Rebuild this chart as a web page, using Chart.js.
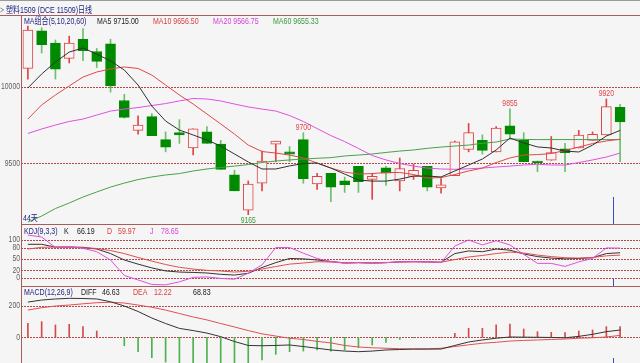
<!DOCTYPE html>
<html>
<head>
<meta charset="utf-8">
<script src="https://cdn.jsdelivr.net/npm/chart.js@4"></script>
<style>
body { margin: 0; background: #f5f5f5; }
#wrap { position: relative; width: 640px; height: 363px; overflow: hidden; background: #f5f5f5;
        font-family: "Liberation Sans", Arial, "Noto Sans CJK SC", sans-serif; font-size: 9px; }
canvas { position: absolute; left: 0; }
.t { position: absolute; white-space: nowrap; line-height: 10px; transform: scaleX(0.78); transform-origin: 0 50%; }
.ln { position: absolute; background: #a85c5c; }
.navy { color: #23237f; }
.blk { color: #202020; }
.red { color: #d84040; }
.mag { color: #d840d8; }
.grn { color: #3a9a3a; }
</style>
</head>
<body>
<div id="wrap">
  <div class="ln" style="left:0;top:0;width:640px;height:1px;background:#9a9a9a"></div>
  <canvas id="cMain" width="640" height="208" style="top:16px"></canvas>
  <canvas id="cKdj" width="640" height="61" style="top:225px"></canvas>
  <canvas id="cMacd" width="640" height="76" style="top:287px"></canvas>

  <div class="ln" style="left:0;top:15px;width:640px;height:1px"></div>
  <div class="ln" style="left:21px;top:224px;width:619px;height:1px"></div>
  <div class="ln" style="left:21px;top:286px;width:619px;height:1px"></div>
  <div class="ln" style="left:21px;top:15px;width:1px;height:348px"></div>

  <div class="t" style="left:0;top:5px;color:#777">&gt;</div>
  <div class="t navy" style="left:6px;top:5px">塑料1509 (DCE 11509)日线</div>

  <div class="t navy" style="left:24px;top:15.5px">MA组合(5,10,20,60)</div>
  <div class="t blk" style="left:97px;top:15.5px">MA5 9715.00</div>
  <div class="t red" style="left:153px;top:15.5px">MA10 9656.50</div>
  <div class="t mag" style="left:213px;top:15.5px">MA20 9566.75</div>
  <div class="t grn" style="left:273px;top:15.5px">MA60 9655.33</div>
  <div class="t navy" style="left:23px;top:213px">44天</div>

  <div class="t navy" style="left:24px;top:225.5px">KDJ(9,3,3)</div>
  <div class="t blk" style="left:64px;top:225.5px">K</div>
  <div class="t blk" style="left:77px;top:225.5px">66.19</div>
  <div class="t red" style="left:107px;top:225.5px">D</div>
  <div class="t red" style="left:118px;top:225.5px">59.97</div>
  <div class="t mag" style="left:150px;top:225.5px">J</div>
  <div class="t mag" style="left:161px;top:225.5px">78.65</div>

  <div class="t navy" style="left:24px;top:286.5px">MACD(12,26,9)</div>
  <div class="t blk" style="left:81px;top:286.5px">DIFF</div>
  <div class="t blk" style="left:102px;top:286.5px">46.63</div>
  <div class="t red" style="left:133px;top:286.5px">DEA</div>
  <div class="t red" style="left:154px;top:286.5px">12.22</div>
  <div class="t blk" style="left:193px;top:286.5px">68.83</div>
</div>

<script>
// K线数据 (读自图上)
const days = Array.from({length: 44}, (_, i) => String(i + 1));

const opens  = [10120,10365,10285,10185,10310,10230,10280,9910,9715,9805,9655,9700,9600,9705,9625,9425,9195,9370,9625,9575,9655,9365,9435,9385,9480,9395,9470,9385,9415,9480,9340,9420,9590,9650,9575,9745,9650,9515,9520,9595,9600,9650,9685,9865];
const closes = [10370,10275,10115,10285,10235,10165,10005,9800,9750,9680,9605,9685,9725,9630,9460,9320,9365,9515,9645,9560,9400,9415,9345,9360,9380,9415,9435,9465,9455,9345,9360,9640,9700,9585,9730,9690,9510,9505,9570,9570,9685,9690,9870,9770];
const highs  = [10395,10385,10305,10330,10380,10250,10310,9950,9810,9825,9705,9785,9725,9740,9650,9455,9385,9580,9645,9610,9700,9435,9435,9410,9480,9435,9480,9535,9495,9480,9400,9645,9760,9685,9740,9855,9700,9515,9675,9630,9715,9705,9920,9885];
const lows   = [10050,10220,10050,10155,10170,10125,9965,9795,9690,9680,9575,9630,9555,9630,9460,9320,9165,9320,9510,9510,9370,9330,9250,9310,9310,9265,9355,9320,9395,9320,9305,9420,9575,9560,9575,9660,9510,9445,9520,9445,9600,9650,9685,9510];

// 均线
const ma5  = [9992,10083,10161,10226,10253,10213,10168,10109,10011,9874,9776,9717,9685,9652,9613,9561,9509,9463,9463,9483,9499,9502,9469,9430,9391,9384,9384,9397,9417,9417,9411,9450,9489,9528,9587,9665,9633,9607,9600,9580,9574,9619,9678,9715];
const ma10 = [9789,9881,9946,10005,10063,10096,10116,10129,10119,10076,10011,9946,9887,9822,9757,9691,9619,9577,9567,9554,9535,9502,9469,9443,9430,9433,9440,9440,9427,9404,9407,9427,9450,9469,9505,9535,9554,9557,9564,9584,9606,9629,9646,9657];
const ma20 = [9695,9724,9750,9773,9789,9815,9841,9854,9864,9877,9890,9907,9923,9920,9907,9887,9868,9854,9841,9812,9773,9727,9681,9642,9597,9551,9522,9499,9482,9469,9463,9461,9464,9469,9476,9482,9489,9494,9489,9489,9505,9522,9541,9567];
const ma60 = [9117,9156,9205,9241,9280,9313,9345,9371,9394,9411,9424,9433,9450,9463,9473,9482,9492,9505,9515,9522,9528,9533,9537,9548,9554,9561,9571,9580,9587,9598,9606,9613,9619,9631,9639,9659,9656,9655,9655,9655,9655,9655,9655,9655];

// KDJ
const kdjK = [88.6,88.6,81,81.4,80.6,76,64,47,36,26,18,15,14,12.5,9,7,11.7,27,40,51,50,47,43,39,40,39,40,42,43,42,41,64,71,69,76,73,63,56,52,50,51,53,64,66.19];
const kdjD = [76,80.6,81.4,81,79.6,77.5,72,64,53.6,44,35,27.6,23,19.6,17.8,15,17,23,29.7,36,39,42.4,41.6,40,40,39,40,41.6,41.6,41.6,41,48,55,59,64,68,65.5,60,56,53,52,53.6,58,59.97];
const kdjJ = [113,108,80,82,78,69,47,6,-6,-18,-19,-11,1,2,-2,-4,12,34,80,80,65,51,43,38,40,38,40,42,43,42,40,84,100,87,98,87,62,38,38,30,42,51,79,78.65];

// MACD
const diff = [225,238,245,249,248,245,227,200,165,123,88,57,43,27,4,-27,-52,-54,-52,-49,-59,-70,-81,-88,-92,-88,-81,-78,-75,-75,-75,-52,-30,-17,-6,2,1,0,-1,-3,6,19,36,46.63];
const dea  = [174,189,200,206,214,221,224,219,206,192,174,152,130,111,88,66,43,22,8,-6,-14,-26,-36,-52,-62,-67,-70,-73,-75,-75,-70,-59,-48,-38,-32,-24,-20,-17,-14,-11,-6,-3,2,12.22];
const macdBar = [89,100,79,83,68,40,0,-54,-92,-130,-158,-175,-180,-180,-180,-180,-180,-145,-109,-92,-88,-81,-88,-81,-66,-49,-32,-13,-3,0,0,26,57,57,79,85,53,36,32,30,40,47,68,68.83];

// 刻度
const mainTicks = [10000, 9500];
const kdjTicks = [100, 80, 50, 20, 0];
const macdTicks = [200, 0];

// 标注的高低点 (索引)
const markIdx  = [16, 20, 35, 42];
const markType = ['low', 'high', 'high', 'high'];

const BG = '#f5f5f5';
const UP = '#e04444';
const DOWN = '#008a00';
const DOWN_WICK = '#6cbf6c';
const FONT = '9px "Liberation Sans", Arial, sans-serif';
const SQUEEZE = 0.76;

// 压窄的文字 (原图字体较窄)
function narrowText(ctx, text, x, y) {
    ctx.save();
    ctx.translate(x, y);
    ctx.scale(SQUEEZE, 1);
    ctx.fillText(text, 0, 0);
    ctx.restore();
}

// 网格虚线、刻度文字和光标线
const panelDeco = {
    id: 'panelDeco',
    beforeDatasetsDraw(chart, args, opts) {
        const {ctx, chartArea} = chart;
        const y = chart.scales.y;
        ctx.save();
        ctx.strokeStyle = '#b04848';
        ctx.lineWidth = 1;
        ctx.setLineDash([2, 1]);
        opts.ticks.forEach(v => {
            const py = Math.round(y.getPixelForValue(v)) + 0.5;
            ctx.beginPath();
            ctx.moveTo(chartArea.left, py);
            ctx.lineTo(chart.width, py);
            ctx.stroke();
        });
        ctx.setLineDash([]);
        ctx.fillStyle = '#606060';
        ctx.font = FONT;
        ctx.textAlign = 'right';
        ctx.textBaseline = 'middle';
        opts.ticks.forEach(v => narrowText(ctx, String(v), 20, y.getPixelForValue(v)));
        ctx.restore();
    },
    afterDatasetsDraw(chart, args, opts) {
        const {ctx, chartArea} = chart;
        const x = chart.scales.x;
        const px = Math.round((x.getPixelForValue(42) + x.getPixelForValue(43)) / 2) + 0.5;
        ctx.save();
        ctx.strokeStyle = '#3c4cc0';
        ctx.lineWidth = 1;
        ctx.beginPath();
        ctx.moveTo(px, chartArea.bottom - opts.cursor);
        ctx.lineTo(px, chartArea.bottom);
        ctx.stroke();
        ctx.restore();
    }
};

// 高低点数值
const markLabels = {
    id: 'markLabels',
    afterDatasetsDraw(chart) {
        const {ctx} = chart;
        const x = chart.scales.x, y = chart.scales.y;
        ctx.save();
        ctx.font = FONT;
        ctx.textAlign = 'center';
        markIdx.forEach((i, k) => {
            const px = x.getPixelForValue(i);
            if (markType[k] === 'high') {
                ctx.fillStyle = UP;
                ctx.textBaseline = 'bottom';
                narrowText(ctx, String(highs[i]), px, y.getPixelForValue(highs[i]) - 1);
            } else {
                ctx.fillStyle = '#3a9a3a';
                ctx.textBaseline = 'top';
                narrowText(ctx, String(lows[i]), px, y.getPixelForValue(lows[i]) + 1);
            }
        });
        ctx.restore();
    }
};

function baseOptions(min, max, ticks, cursor) {
    return {
        responsive: false,
        animation: false,
        layout: {padding: {left: 21, right: 13, top: 0, bottom: 0}},
        plugins: {
            legend: {display: false},
            tooltip: {enabled: false},
            panelDeco: {ticks: ticks, cursor: cursor}
        },
        scales: {
            x: {display: false, offset: true},
            y: {display: false, min: min, max: max}
        }
    };
}

function lineSet(data, color) {
    return {type: 'line', data: data, borderColor: color, borderWidth: 1, pointRadius: 0, tension: 0, order: 0};
}

const isUp = opens.map((o, i) => closes[i] >= o);

new Chart(document.getElementById('cMain'), {
    type: 'bar',
    data: {
        labels: days,
        datasets: [
            lineSet(ma5, '#303030'),
            lineSet(ma10, '#e04848'),
            lineSet(ma20, '#e050e0'),
            lineSet(ma60, '#4aa04a'),
            {
                data: opens.map((o, i) => [o, closes[i]]),
                backgroundColor: isUp.map(u => u ? BG : DOWN),
                borderColor: isUp.map(u => u ? UP : DOWN),
                borderWidth: 1,
                borderSkipped: false,
                barThickness: 10,
                grouped: false,
                order: 1
            },
            {
                data: lows.map((l, i) => [l, highs[i]]),
                backgroundColor: isUp.map(u => u ? UP : DOWN_WICK),
                borderWidth: 0,
                barThickness: 1,
                grouped: false,
                order: 2
            }
        ]
    },
    options: baseOptions(9104, 10461.5, mainTicks, 27),
    plugins: [panelDeco, markLabels]
});

new Chart(document.getElementById('cKdj'), {
    type: 'line',
    data: {
        labels: days,
        datasets: [
            lineSet(kdjJ, '#e050e0'),
            lineSet(kdjD, '#e05050'),
            lineSet(kdjK, '#333333')
        ]
    },
    options: baseOptions(-22, 139.8, kdjTicks, 7),
    plugins: [panelDeco]
});

new Chart(document.getElementById('cMacd'), {
    type: 'bar',
    data: {
        labels: days,
        datasets: [
            lineSet(diff, '#333333'),
            lineSet(dea, '#e05050'),
            {
                data: macdBar,
                backgroundColor: macdBar.map(v => v >= 0 ? '#d44a4a' : '#4fb04f'),
                borderWidth: 0,
                barThickness: 1,
                order: 1
            }
        ]
    },
    options: baseOptions(-164.2, 321.4, macdTicks, 5),
    plugins: [panelDeco]
});
</script>
</body>
</html>
